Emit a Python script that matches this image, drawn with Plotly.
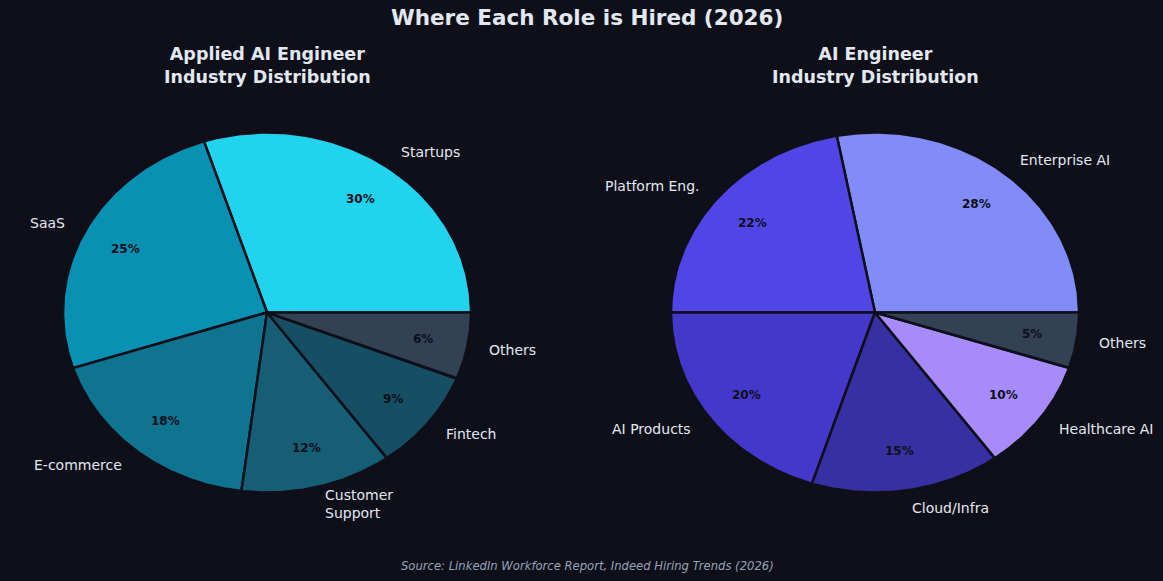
import numpy as np
import plotly.graph_objects as go

BG = "#0f0f1a"
TXT = "#e2e8f0"

main_title = "Where Each Role is Hired (2026)"
source_text = "Source: LinkedIn Workforce Report, Indeed Hiring Trends (2026)"

left_title = "Applied AI Engineer<br>Industry Distribution"
left_labels = ["Startups", "SaaS", "E-commerce", "Customer<br>Support", "Fintech", "Others"]
left_values = [30, 25, 18, 12, 9, 6]
left_colors = ["#22d3ee", "#0891b2", "#0e7490", "#155e75", "#164e63", "#334155"]

right_title = "AI Engineer<br>Industry Distribution"
right_labels = ["Enterprise AI", "Platform Eng.", "AI Products", "Cloud/Infra", "Healthcare AI", "Others"]
right_values = [28, 22, 20, 15, 10, 5]
right_colors = ["#818cf8", "#4f46e5", "#4338ca", "#3730a3", "#a78bfa", "#334155"]

W, H = 1163, 581
FONT = "DejaVu Sans"

fig = go.Figure()
annotations = []


def add_pie(values, labels, colors, xa, ya):
    total = float(sum(values))
    start = 0.0
    for v, lab, col in zip(values, labels, colors):
        frac = v / total
        t1 = start
        t2 = start + 360.0 * frac
        th = np.radians(np.linspace(t1, t2, 120))
        xs = np.concatenate([[0.0], np.cos(th), [0.0]])
        ys = np.concatenate([[0.0], np.sin(th), [0.0]])
        fig.add_trace(go.Scatter(
            x=xs, y=ys, mode="lines", fill="toself", fillcolor=col,
            line=dict(color=BG, width=2.5), xaxis=xa, yaxis=ya,
            hoverinfo="text", text=f"{lab.replace('<br>', ' ')}: {v}%",
            showlegend=False,
        ))
        mid = np.radians((t1 + t2) / 2)
        # percentage label
        annotations.append(dict(
            x=0.78 * np.cos(mid), y=0.78 * np.sin(mid), xref=xa, yref=ya,
            text=f"<b>{v / total * 100:.0f}%</b>", showarrow=False,
            font=dict(family=FONT, size=12, color=BG),
            xanchor="center", yanchor="middle",
        ))
        # category label
        lx, ly = 1.1 * np.cos(mid), 1.1 * np.sin(mid)
        annotations.append(dict(
            x=lx, y=ly, xref=xa, yref=ya, text=lab, showarrow=False,
            font=dict(family=FONT, size=14, color=TXT),
            xanchor="left" if lx > 0 else "right", yanchor="middle",
            align="left" if lx > 0 else "right",
        ))
        start = t2


add_pie(left_values, left_labels, left_colors, "x", "y")
add_pie(right_values, right_labels, right_colors, "x2", "y2")

# subplot titles
for cx, ttl in [(267, left_title), (875, right_title)]:
    annotations.append(dict(
        x=cx / W, y=1 - 65.5 / H, xref="paper", yref="paper",
        text=f"<b>{ttl}</b>", showarrow=False,
        font=dict(family=FONT, size=17.5, color=TXT),
        xanchor="center", yanchor="middle",
    ))

annotations.append(dict(
    x=587 / W, y=1 - 18 / H, xref="paper", yref="paper",
    text=f"<b>{main_title}</b>", showarrow=False,
    font=dict(family=FONT, size=21.5, color=TXT),
    xanchor="center", yanchor="middle",
))
annotations.append(dict(
    x=587 / W, y=1 - 566 / H, xref="paper", yref="paper",
    text=f"<i>{source_text}</i>", showarrow=False,
    font=dict(family=FONT, size=11.6, color="#94a3b8"),
    xanchor="center", yanchor="middle",
))

ax = dict(range=[-1.25, 1.25], visible=False, showgrid=False, zeroline=False, fixedrange=True)
rx, ry = 204.0, 180.0
cy = 312.5
ydom = [1 - (cy + 1.25 * ry) / H, 1 - (cy - 1.25 * ry) / H]
fig.update_layout(
    width=W, height=H, margin=dict(l=0, r=0, t=0, b=0),
    paper_bgcolor=BG, plot_bgcolor=BG,
    xaxis=dict(ax, domain=[(267 - 1.25 * rx) / W, (267 + 1.25 * rx) / W]),
    yaxis=dict(ax, domain=ydom),
    xaxis2=dict(ax, domain=[(875 - 1.25 * rx) / W, (875 + 1.25 * rx) / W]),
    yaxis2=dict(ax, domain=ydom),
    annotations=annotations,
    showlegend=False,
)

fig.write_html("out.html")
